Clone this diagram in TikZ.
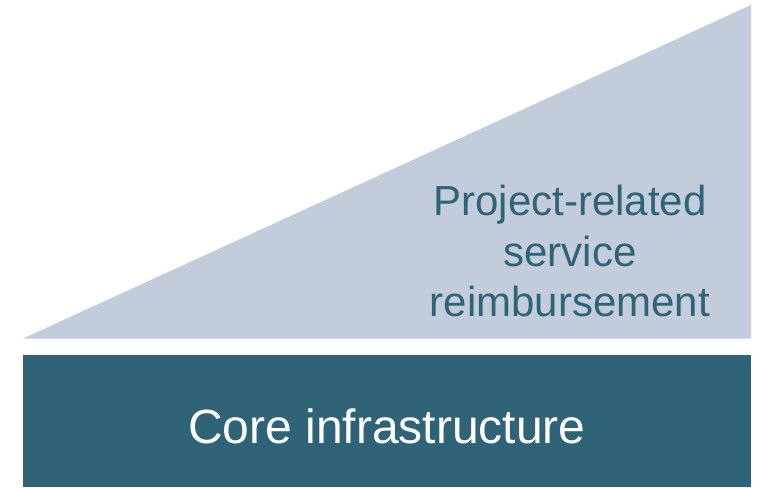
\documentclass[tikz,border=0pt]{standalone}
\usepackage{fontspec}
\setmainfont{Liberation Sans}
\definecolor{lightfill}{HTML}{C3CCDA}
\definecolor{darkfill}{HTML}{2F6377}
\begin{document}
\begin{tikzpicture}[x=1pt,y=-1pt,
  toptext/.style={anchor=base,text=darkfill,font=\fontsize{42}{50}\selectfont,inner sep=0pt},
  coretext/.style={anchor=base,text=white,font=\fontsize{48}{56}\selectfont,inner sep=0pt}]
\useasboundingbox (0,0) rectangle (759,487);
\fill[lightfill] (23,338.5) -- (751,338.5) -- (751,5) -- cycle;
\fill[darkfill] (23,355) rectangle (751,487);
\node[toptext] (l1) at (570,215) {Project-related};
\node[toptext] (l2) at (570,266) {service};
\node[toptext] (l3) at (570,316) {reimbursement};
\node[coretext] (core) at (387,443) {Core infrastructure};
\end{tikzpicture}
\end{document}
